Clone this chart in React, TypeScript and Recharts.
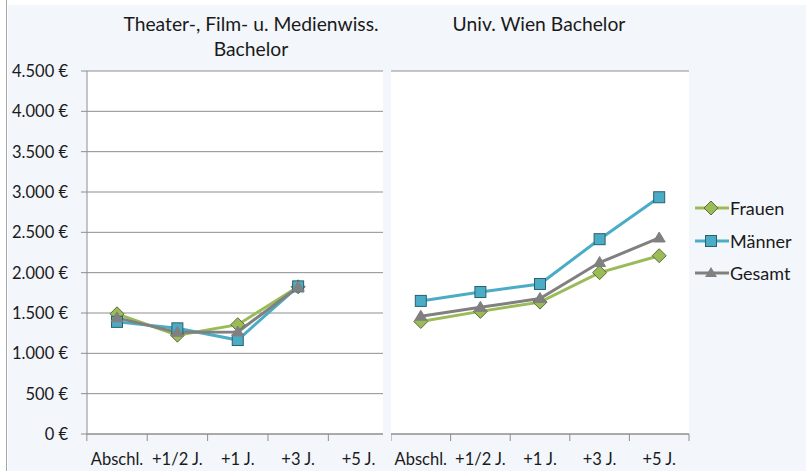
import { LineChart, Line, XAxis, YAxis, CartesianGrid } from 'recharts';

const categories = ['Abschl.', '+1/2 J.', '+1 J.', '+3 J.', '+5 J.'];

// Theater-, Film- u. Medienwiss. Bachelor (kein Wert für +5 J.)
const tfmFrauen = [1490, 1225, 1355, 1825, null];
const tfmMaenner = [1390, 1310, 1165, 1830, null];
const tfmGesamt = [1440, 1260, 1265, 1820, null];

// Univ. Wien Bachelor
const wienFrauen = [1395, 1520, 1635, 2000, 2210];
const wienMaenner = [1650, 1760, 1860, 2415, 2935];
const wienGesamt = [1460, 1570, 1680, 2125, 2430];

const yTicks = [0, 500, 1000, 1500, 2000, 2500, 3000, 3500, 4000, 4500];

const GREEN = '#9bbb59';
const BLUE = '#4bacc6';
const GRAY = '#808080';
const GRID = '#8e8e8e';
const FONT = 'Lato, "Open Sans", sans-serif';

const buildRows = (f: (number | null)[], m: (number | null)[], g: (number | null)[]) =>
  categories.map((c, i) => ({ cat: c, frauen: f[i], maenner: m[i], gesamt: g[i] }));

const tfmData = buildRows(tfmFrauen, tfmMaenner, tfmGesamt);
const wienData = buildRows(wienFrauen, wienMaenner, wienGesamt);

const euro = (v: number) => {
  const s = String(v).replace(/\B(?=(\d{3})+(?!\d))/g, '.');
  return `${s} €`;
};

const Diamond = (props: any) => {
  const { cx, cy } = props;
  if (cx == null || cy == null || props.value == null) return null;
  const r = 7;
  return (
    <polygon
      points={`${cx},${cy - r} ${cx + r},${cy} ${cx},${cy + r} ${cx - r},${cy}`}
      fill={GREEN}
      stroke="#5a6e37"
      strokeWidth={1}
    />
  );
};

const Square = (props: any) => {
  const { cx, cy } = props;
  if (cx == null || cy == null || props.value == null) return null;
  const s = 11;
  return <rect x={cx - s / 2} y={cy - s / 2} width={s} height={s} fill={BLUE} stroke="#2c5f6e" strokeWidth={1} />;
};

const Triangle = (props: any) => {
  const { cx, cy } = props;
  if (cx == null || cy == null || props.value == null) return null;
  return <polygon points={`${cx},${cy - 6} ${cx + 6},${cy + 4} ${cx - 6},${cy + 4}`} fill={GRAY} stroke={GRAY} />;
};

// Tick-Striche zwischen den Kategorien, Beschriftung mittig
const CategoryTick = (props: any) => {
  const { x, y, payload, index, band, lastTick } = props;
  return (
    <g>
      <line x1={x - band / 2} x2={x - band / 2} y1={y} y2={y + 7} stroke={GRID} />
      {lastTick && index === categories.length - 1 && (
        <line x1={x + band / 2} x2={x + band / 2} y1={y} y2={y + 7} stroke={GRID} />
      )}
      <text x={x} y={y + 31} textAnchor="middle" fontSize={16.5} fontFamily={FONT} fill="#1a1a1a">
        {payload.value}
      </text>
    </g>
  );
};

const seriesLines = () => [
  <Line key="f" dataKey="frauen" stroke={GREEN} strokeWidth={3} dot={<Diamond />} activeDot={false} isAnimationActive={false} />,
  <Line key="m" dataKey="maenner" stroke={BLUE} strokeWidth={3} dot={<Square />} activeDot={false} isAnimationActive={false} />,
  <Line key="g" dataKey="gesamt" stroke={GRAY} strokeWidth={3} dot={<Triangle />} activeDot={false} isAnimationActive={false} />,
];

const LegendRow = ({ label, color, marker }: { label: string; color: string; marker: string }) => (
  <div style={{ display: 'flex', alignItems: 'center', height: 32.5 }}>
    <svg width={34} height={16} style={{ display: 'block' }}>
      <line x1={0} x2={34} y1={8} y2={8} stroke={color} strokeWidth={3} />
      {marker === 'diamond' && <polygon points="16,1 23,8 16,15 9,8" fill={GREEN} stroke="#5a6e37" />}
      {marker === 'square' && <rect x={10.5} y={2.5} width={11} height={11} fill={BLUE} stroke="#2c5f6e" />}
      {marker === 'triangle' && <polygon points="16,2 22,12 10,12" fill={GRAY} />}
    </svg>
    <span style={{ fontSize: 18, fontFamily: FONT, color: '#1a1a1a', marginLeft: 1 }}>{label}</span>
  </div>
);

export default function App() {
  return (
    <div style={{ position: 'absolute', left: 0, top: 0, width: 806, height: 471, background: '#ffffff', overflow: 'hidden' }}>
      <div style={{ position: 'absolute', left: 6, top: 0, width: 1, height: 471, background: '#a6a6a6' }} />
      <div style={{ position: 'absolute', left: 8, top: 5, width: 798, height: 466, background: '#f3f6fb' }} />

      <div
        style={{
          position: 'absolute',
          left: 100,
          top: 11,
          width: 302,
          textAlign: 'center',
          fontFamily: FONT,
          fontSize: 19.3,
          lineHeight: '25px',
          color: '#1a1a1a',
        }}
      >
        Theater-, Film- u. Medienwiss.
        <br />
        Bachelor
      </div>
      <div
        style={{
          position: 'absolute',
          left: 390,
          top: 11,
          width: 298,
          textAlign: 'center',
          fontFamily: FONT,
          fontSize: 19.3,
          lineHeight: '25px',
          color: '#1a1a1a',
        }}
      >
        Univ. Wien Bachelor
      </div>

      <div style={{ position: 'absolute', left: 0, top: 0 }}>
        <LineChart width={395} height={471} data={tfmData} margin={{ top: 71, right: 12, bottom: 0, left: 0 }}>
          <CartesianGrid vertical={false} stroke={GRID} fill="#ffffff" fillOpacity={1} />
          <XAxis
            dataKey="cat"
            height={37}
            axisLine={{ stroke: GRID }}
            tickLine={false}
            tickSize={0}
            tickMargin={0}
            padding={{ left: 30, right: 24.5 }}
            interval={0}
            tick={(p: any) => <CategoryTick {...p} band={60.3} lastTick={false} />}
          />
          <YAxis
            width={87}
            domain={[0, 4500]}
            ticks={yTicks}
            interval={0}
            tickFormatter={euro}
            axisLine={{ stroke: GRID }}
            tickLine={{ stroke: GRID }}
            tickSize={6}
            tickMargin={13}
            tick={{ fontSize: 16.5, fill: '#1a1a1a', fontFamily: FONT }}
          />
          {seriesLines()}
        </LineChart>
      </div>

      <div style={{ position: 'absolute', left: 391, top: 0 }}>
        <LineChart width={305} height={471} data={wienData} margin={{ top: 71, right: 7, bottom: 0, left: 0 }}>
          <CartesianGrid vertical={false} stroke={GRID} fill="#ffffff" fillOpacity={1} />
          <XAxis
            dataKey="cat"
            height={37}
            axisLine={{ stroke: GRID }}
            tickLine={false}
            tickSize={0}
            tickMargin={0}
            padding={{ left: 29.8, right: 29.8 }}
            interval={0}
            tick={(p: any) => <CategoryTick {...p} band={59.6} lastTick={true} />}
          />
          <YAxis width={0} domain={[0, 4500]} ticks={yTicks} interval={0} tick={false} tickLine={false} axisLine={{ stroke: GRID }} />
          {seriesLines()}
        </LineChart>
      </div>

      <div style={{ position: 'absolute', left: 695, top: 192 }}>
        <LegendRow label="Frauen" color={GREEN} marker="diamond" />
        <LegendRow label="Männer" color={BLUE} marker="square" />
        <LegendRow label="Gesamt" color={GRAY} marker="triangle" />
      </div>
    </div>
  );
}
